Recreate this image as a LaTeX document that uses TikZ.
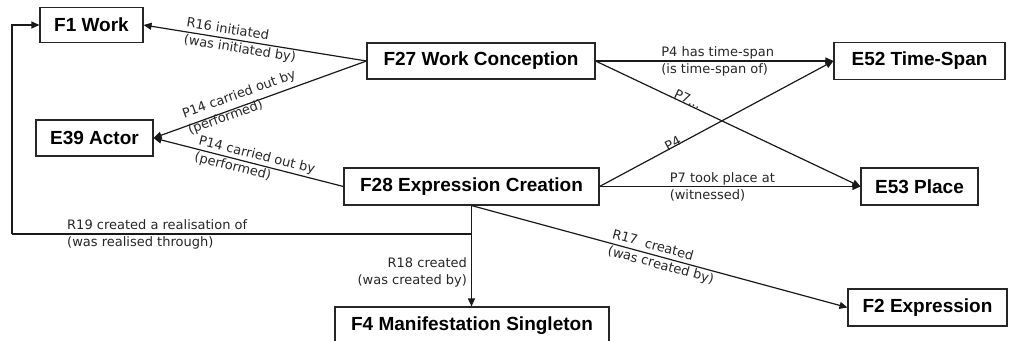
\documentclass[tikz,border=0pt]{standalone}
\usepackage{fontspec}
\setmainfont{Liberation Sans}
\newfontfamily\lblfont{DejaVu Sans}
\usetikzlibrary{arrows.meta}
\begin{document}
\begin{tikzpicture}[x=1pt,y=-1pt,
  box/.style={draw=black!85, line width=1.1pt, fill=white, inner sep=0pt, font=\fontsize{19}{22}\selectfont\bfseries},
  arr/.style={draw=black!90, line width=1.2pt, -{Triangle[length=8pt,width=7pt]}},
  ln/.style={draw=black!90, line width=1.2pt},
  lbl/.style={font=\lblfont\fontsize{13}{17}\selectfont, inner sep=1pt, align=left, text=black!85}]
\useasboundingbox (0,0) rectangle (1016,340);
\clip (0,0) rectangle (1016,340);

% boxes
\node[box, minimum width=103pt, minimum height=35pt] (f1) at (91.5,25) {F1 Work};
\node[box, minimum width=228pt, minimum height=36pt] (f27) at (481,61) {F27 Work Conception};
\node[box, minimum width=171pt, minimum height=37pt] (e52) at (919.5,61) {E52 Time-Span};
\node[box, minimum width=117pt, minimum height=36pt] (e39) at (94.5,138) {E39 Actor};
\node[box, minimum width=255pt, minimum height=37pt] (f28) at (471.5,186.5) {F28 Expression Creation};
\node[box, minimum width=117pt, minimum height=37pt] (e53) at (919.5,186.5) {E53 Place};
\node[box, minimum width=159pt, minimum height=37pt] (f2) at (927.5,307.5) {F2 Expression};
\node[box, minimum width=274pt, minimum height=38pt] (f4) at (472,326) {F4 Manifestation Singleton};

\coordinate (r19c) at (12,234);

% connectors
\draw[arr] (f27.west) -- node[lbl, sloped, pos=0.82, anchor=west] (l16) {R16 initiated\\(was initiated by)} (f1.east);
\draw[arr] (f27.west) -- node[lbl, sloped, pos=0.85, anchor=west, yshift=3pt] (l14a) {P14 carried out by\\(performed)} (e39.east);
\draw[arr] (f28.west) -- node[lbl, sloped, pos=0.78, anchor=west] (l14b) {P14 carried out by\\(performed)} (e39.east);
\draw[arr] (f27.east) -- node[lbl, pos=0.27, anchor=west] (l4a) {P4 has time-span\\(is time-span of)} (e52.west);
\draw[arr] (f27.east) -- node[lbl, sloped, pos=0.29, anchor=south west, inner sep=0pt] (l7a) {P7...} (e53.west);
\draw[arr] (f28.east) -- node[lbl, sloped, pos=0.32, anchor=south, yshift=-3pt] (l4b) {P4} (e52.west);
\draw[arr] (f28.east) -- node[lbl, pos=0.263, anchor=west] (l7b) {P7 took place at\\(witnessed)} (e53.west);
\draw[ln] (f28.south) -- (f28.south |- r19c) -- (r19c);
\draw[arr] (r19c) |- (f1.west);
\node[lbl, anchor=west] (l19) at (66,234) {R19 created a realisation of\\(was realised through)};
\draw[arr] (f28.south) -- node[lbl, pos=0.66, anchor=east, align=right, xshift=-3pt] (l18) {R18 created\\(was created by)} (f28.south |- f4.north);
\draw[arr] (f28.south) -- node[lbl, sloped, pos=0.365, anchor=west] (l17) {R17~~created\\(was created by)} (f2.west);
\end{tikzpicture}
\end{document}
